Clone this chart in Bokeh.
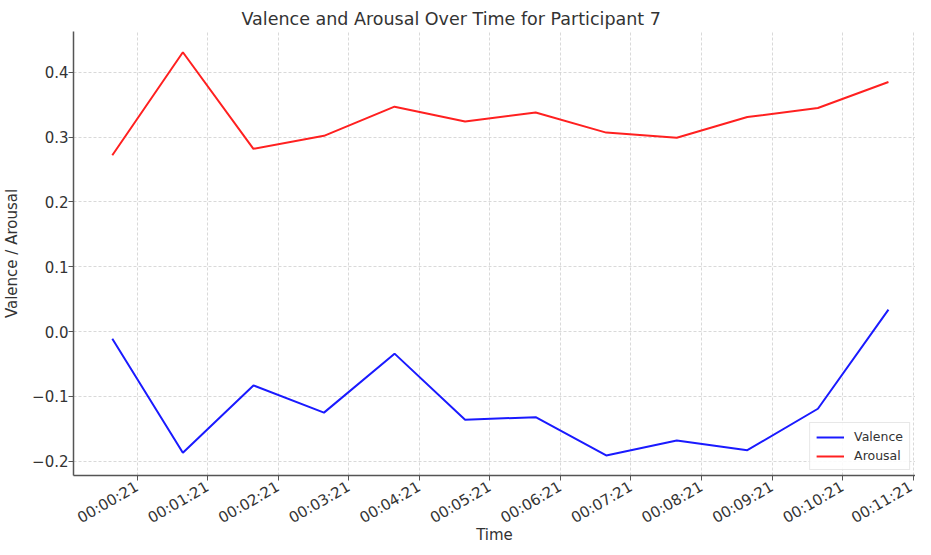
import math
from bokeh.plotting import figure
from bokeh.models import Range1d, FixedTicker, Legend, LegendItem
from bokeh.embed import file_html
from bokeh.resources import INLINE

# ---- data ----
times = ["00:00:00", "00:01:00", "00:02:00", "00:03:00", "00:04:00", "00:05:00",
         "00:06:00", "00:07:00", "00:08:00", "00:09:00", "00:10:00", "00:11:00"]
valence = [-0.011, -0.187, -0.083, -0.125, -0.034, -0.136,
           -0.132, -0.191, -0.168, -0.183, -0.119, 0.034]
arousal = [0.272, 0.431, 0.282, 0.302, 0.347, 0.324,
           0.338, 0.307, 0.299, 0.331, 0.345, 0.385]
tick_labels = ["00:00:21", "00:01:21", "00:02:21", "00:03:21", "00:04:21", "00:05:21",
               "00:06:21", "00:07:21", "00:08:21", "00:09:21", "00:10:21", "00:11:21"]
y_ticks = [-0.2, -0.1, 0.0, 0.1, 0.2, 0.3, 0.4]


def to_sec(s):
    h, m, sec = s.split(":")
    return int(h) * 3600 + int(m) * 60 + int(sec)


x = [to_sec(t) for t in times]
xt = [to_sec(t) for t in tick_labels]

FONT = "DejaVu Sans"
TXT = "#333333"

p = figure(width=915, height=546, output_backend="svg", toolbar_location=None,
           x_range=Range1d(-33, 683), y_range=Range1d(-0.222, 0.463),
           min_border_left=67, min_border_right=0, min_border_top=31, min_border_bottom=60)
p.outline_line_color = None

p.title.text = "Valence and Arousal Over Time for Participant 7"
p.title.text_font = FONT
p.title.text_font_size = "17.5px"
p.title.text_font_style = "normal"
p.title.text_color = TXT
p.title.align = "left"
p.title.offset = 168
p.title.standoff = 6

r1 = p.line(x, valence, line_color="#1a1aff", line_width=2)
r2 = p.line(x, arousal, line_color="#ff2020", line_width=2)

xa = p.xaxis[0]
xa.ticker = FixedTicker(ticks=xt)
xa.major_label_overrides = {v: l for v, l in zip(xt, tick_labels)}
xa.major_label_orientation = math.pi / 6
xa.axis_label = "Time"

ya = p.yaxis[0]
ya.ticker = FixedTicker(ticks=y_ticks)
ya.major_label_overrides = {v: (f"{v:.1f}".replace("-", "\u2212")) for v in y_ticks}
ya.axis_label = "Valence / Arousal"

for ax in (xa, ya):
    ax.axis_line_color = "#555555"
    ax.axis_line_width = 1.5
    ax.major_tick_line_color = "#555555"
    ax.major_tick_line_width = 1
    ax.major_tick_out = 5
    ax.major_tick_in = 0
    ax.minor_tick_line_color = None
    ax.major_label_text_font = FONT
    ax.major_label_text_font_size = "15px"
    ax.major_label_text_color = TXT
    ax.axis_label_text_font = FONT
    ax.axis_label_text_font_size = "15px"
    ax.axis_label_text_font_style = "normal"
    ax.axis_label_text_color = TXT

xa.major_label_standoff = 5
xa.axis_label_standoff = -12
ya.major_label_standoff = 0
ya.axis_label_standoff = 8

for g in (p.xgrid[0], p.ygrid[0]):
    g.grid_line_color = "#cfcfcf"
    g.grid_line_dash = "3 2"
    g.grid_line_width = 0.8

legend = Legend(items=[LegendItem(label="Valence", renderers=[r1]),
                       LegendItem(label="Arousal", renderers=[r2])],
                location="bottom_right")
legend.label_text_font = FONT
legend.label_text_font_size = "12.5px"
legend.label_text_color = TXT
legend.glyph_width = 28
legend.glyph_height = 14
legend.label_height = 14
legend.spacing = 4
legend.padding = 6
legend.margin = 5
legend.label_standoff = 10
legend.border_line_color = "#d0d0d0"
legend.background_fill_alpha = 0.85
p.add_layout(legend)

open("out.html", "w").write(file_html(p, INLINE))
